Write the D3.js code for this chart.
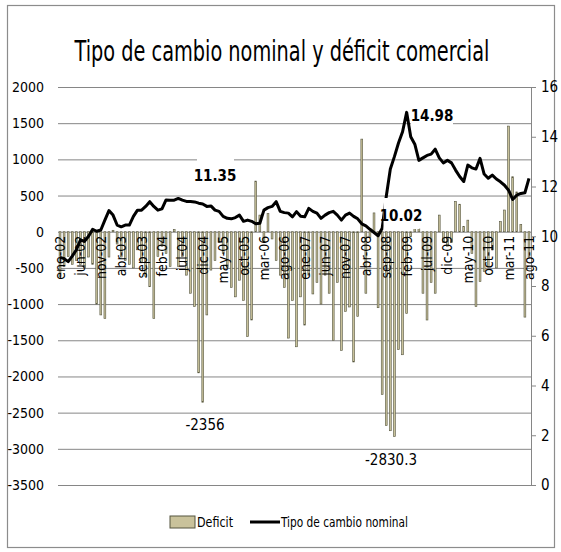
<!DOCTYPE html>
<html>
<head>
<meta charset="utf-8">
<script src="https://cdn.jsdelivr.net/npm/d3@7"></script>
<style>
  html, body { margin: 0; padding: 0; background: #fff; }
  svg text { font-family: "Liberation Sans Narrow", "DejaVu Sans Condensed", "Liberation Sans", sans-serif; }
</style>
</head>
<body>
<svg id="chart" width="561" height="552"></svg>
<script>
// month names and years used to build the monthly categories (ene-02 .. ago-11)
var months = ["ene","feb","mar","abr","may","jun","jul","ago","sep","oct","nov","dic"];
var years = ["02","03","04","05","06","07","08","09","10","11"];
var categories = [];
years.forEach(function(y){ months.forEach(function(m){ categories.push(m + "-" + y); }); });
categories = categories.slice(0, 116);

// deficit comercial (left axis)
var deficit = [
  -620, -480, -345, -450, -400, -450, -500, -350, -450, -1000, -1150, -1200,
  -350, 20, -170, -350, -400, -450, -500, -250, -430, -620, -760, -1200,
  -340, -200, -300, -480, 30, -480, -340, -600, -850, -1035, -1950, -2356,
  -1150, -530, -400, -150, -300, -490, -770, -900, -670, -950, -1450, -1220,
  700, 230, -150, 250, -100, -400, -600, -770, -1470, -950, -1590, -900,
  -1290, -600, -860, -700, -1000, -600, -850, -1500, -700, -1640, -1100, -1040,
  -1800, -1170, 1280, -850, -80, 260, -1050, -2250, -2680, -2750, -2830.3, -1630,
  -1700, -1130, -70, 40, 40, -850, -1220, -700, -850, 230, -150, -200,
  -150, 420, 380, 70, 160, -300, -1035, -690, -550, -480, -250, -500,
  140, 300, 1460, 760, 550, 100, -1180, -350
];

// tipo de cambio nominal (right axis)
var tipoCambio = [
  9.15, 9.1, 8.98, 9.2, 9.45, 9.85, 9.8, 10.0, 10.28, 10.2, 10.25, 10.65,
  11.03, 10.85, 10.45, 10.38, 10.45, 10.45, 10.8, 11.05, 11.05, 11.2, 11.39, 11.2,
  11.05, 11.1, 11.46, 11.45, 11.45, 11.52, 11.45, 11.4, 11.4, 11.38, 11.33, 11.3,
  11.2, 11.22, 11.05, 11.0, 10.8, 10.72, 10.7, 10.75, 10.85, 10.6, 10.65, 10.6,
  10.5, 10.52, 11.05, 11.15, 11.2, 11.39, 11.0, 10.95, 10.93, 10.78, 10.99, 10.8,
  10.78, 11.12, 11.0, 10.93, 10.72, 10.85, 10.95, 11.0, 10.85, 10.65, 10.85, 10.93,
  10.8, 10.7, 10.5, 10.42, 10.28, 10.15, 10.02, 10.32, 11.6, 12.7, 13.2, 13.75,
  14.2, 14.98, 14.0, 13.7, 13.05, 13.15, 13.25, 13.3, 13.5, 13.15, 12.95, 13.05,
  12.95, 12.66, 12.4, 12.2, 12.86, 12.75, 12.7, 13.13, 12.5, 12.33, 12.46, 12.3,
  12.19, 12.05, 11.85, 11.48, 11.65, 11.72, 11.75, 12.33
];

var leftTicks = [-3500, -3000, -2500, -2000, -1500, -1000, -500, 0, 500, 1000, 1500, 2000];
var rightTicks = [0, 2, 4, 6, 8, 10, 12, 14, 16];
var tickLabels = categories.filter(function(d, i){ return i % 5 === 0; });

var svg = d3.select("#chart");

var plotL = 58, plotR = 531, plotT = 87, plotB = 485;

var x = d3.scaleBand().domain(categories).range([plotL, plotR]).paddingInner(0.55).paddingOuter(0.27);
var yL = d3.scaleLinear().domain([-3500, 2000]).range([plotB, plotT]);
var yR = d3.scaleLinear().domain([0, 16]).range([plotB, plotT]);
var cx = function(d){ return x(d) + x.bandwidth() / 2; };

// outer border
svg.append("rect")
    .attr("x", 7.5).attr("y", 5.5)
    .attr("width", 547).attr("height", 542)
    .attr("fill", "#fff")
    .attr("stroke", "#8c8c8c")
    .attr("stroke-width", 1.2);

// title, squeezed horizontally to the original's width
var title = svg.append("text")
    .attr("text-anchor", "middle")
    .attr("font-size", "29px")
    .attr("fill", "#000")
    .text("Tipo de cambio nominal y déficit comercial");
var tw = title.node().getComputedTextLength();
var sx = Math.min(1, 415 / tw);
title.attr("transform", "translate(282,61) scale(" + sx + ",1)");

// gridlines + left axis labels (plain hyphen minus like the original)
var gLeft = svg.append("g")
    .attr("transform", "translate(" + plotL + ",0)")
    .call(d3.axisLeft(yL).tickValues(leftTicks).tickSize(-(plotR - plotL)).tickPadding(14)
        .tickFormat(function(d){ return String(d); }));
gLeft.select(".domain").remove();
gLeft.selectAll(".tick line").attr("stroke", "#868686").attr("stroke-width", 1);
gLeft.selectAll(".tick text").attr("font-size", "14px").attr("fill", "#000");

// right axis
var gRight = svg.append("g")
    .attr("transform", "translate(" + plotR + ",0)")
    .call(d3.axisRight(yR).tickValues(rightTicks).tickSize(5).tickPadding(5));
gRight.select(".domain").attr("stroke", "#868686");
gRight.selectAll(".tick line").attr("stroke", "#868686");
gRight.selectAll(".tick text").attr("font-size", "15px").attr("fill", "#000");

// bars
svg.append("g").selectAll("rect")
    .data(deficit)
    .join("rect")
    .attr("x", function(d, i){ return x(categories[i]); })
    .attr("width", x.bandwidth())
    .attr("y", function(d){ return yL(Math.max(0, d)); })
    .attr("height", function(d){ return Math.abs(yL(d) - yL(0)); })
    .attr("fill", "#c9c29b")
    .attr("stroke", "#55553f")
    .attr("stroke-width", 0.6);

// category labels (rotated, just under zero line)
var gX = svg.append("g");
gX.selectAll("text")
    .data(tickLabels)
    .join("text")
    .attr("transform", function(d){ return "translate(" + (cx(d) + 5) + "," + (yL(0) + 4) + ") rotate(-90)"; })
    .attr("text-anchor", "end")
    .attr("font-size", "14px")
    .attr("fill", "#000")
    .text(function(d){ return d; });

// line
var line = d3.line()
    .x(function(d, i){ return cx(categories[i]); })
    .y(function(d){ return yR(d); });

svg.append("path")
    .datum(tipoCambio)
    .attr("d", line)
    .attr("fill", "none")
    .attr("stroke", "#000")
    .attr("stroke-width", 3)
    .attr("stroke-linejoin", "round");

// data labels with white boxes
var labels = [
  { t: "11.35", x: 215, y: 181, bx: 197, by: 157, bw: 37, bh: 31, bold: true },
  { t: "14.98", x: 432, y: 121, bx: 411, by: 101, bw: 42, bh: 25, bold: true },
  { t: "10.02", x: 401, y: 221, bx: 383.5, by: 198, bw: 36, bh: 31, bold: true },
  { t: "-2356", x: 205, y: 430, bx: 0, by: 0, bw: 0, bh: 0, bold: false },
  { t: "-2830.3", x: 391, y: 465, bx: 0, by: 0, bw: 0, bh: 0, bold: false }
];
labels.forEach(function(l){
  if (l.bw > 0) {
    svg.append("rect").attr("x", l.bx).attr("y", l.by).attr("width", l.bw).attr("height", l.bh).attr("fill", "#fff");
  }
  svg.append("text")
      .attr("x", l.x).attr("y", l.y)
      .attr("text-anchor", "middle")
      .attr("font-size", "15px")
      .attr("font-weight", l.bold ? "bold" : "normal")
      .attr("fill", "#000")
      .text(l.t);
});

// legend
var lg = svg.append("g");
lg.append("rect").attr("x", 170).attr("y", 516).attr("width", 25).attr("height", 12)
    .attr("fill", "#c9c29b").attr("stroke", "#55553f").attr("stroke-width", 1);
lg.append("text").attr("x", 197).attr("y", 527).attr("font-size", "14px")
    .attr("textLength", 36).attr("lengthAdjust", "spacingAndGlyphs").text("Deficit");
lg.append("line").attr("x1", 250).attr("x2", 280).attr("y1", 522).attr("y2", 522)
    .attr("stroke", "#000").attr("stroke-width", 3);
lg.append("text").attr("x", 281).attr("y", 527).attr("font-size", "14px")
    .attr("textLength", 127).attr("lengthAdjust", "spacingAndGlyphs").text("Tipo de cambio nominal");
</script>
</body>
</html>
